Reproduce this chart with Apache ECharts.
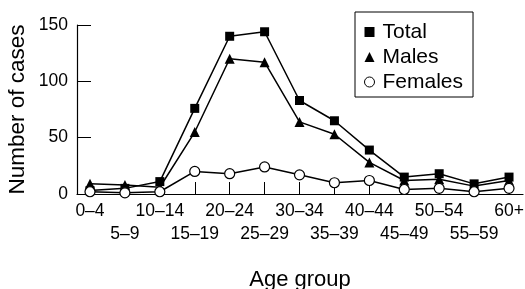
<!DOCTYPE html>
<html><head><meta charset="utf-8">
<script src="https://cdn.jsdelivr.net/npm/echarts@6/dist/echarts.min.js"></script>
<style>html,body{margin:0;padding:0;background:#fff}#c{width:525px;height:289px}</style>
</head><body><div id="c"></div>
<script>
var categories = ['0–4','5–9','10–14','15–19','20–24','25–29','30–34','35–39','40–44','45–49','50–54','55–59','60+'];
var total   = [3, 5, 11, 76, 140, 144, 83, 65, 39, 15, 18, 9, 15];
var males   = [9, 8, 6, 55, 120, 117, 64, 53, 28, 12, 13, 7, 12];
var females = [2, 1, 2, 20, 18, 24, 17, 10, 12, 4, 5, 2, 5];
var yTicks = [0, 50, 100, 150];

function pts(arr){ return arr.map(function(v,i){ return [i, v]; }); }
var idx = categories.map(function(c,i){ return i; });
var evenIdx = idx.filter(function(i){ return i % 2 === 0; });
var oddIdx = idx.filter(function(i){ return i % 2 === 1; });
var FONT = 'Liberation Sans, Arial, sans-serif';
var XMIN = -0.372, XMAX = 12.4;

function labelFmt(v){ return categories[Math.round(v)]; }

var chart = echarts.init(document.getElementById('c'), null, {renderer:'canvas'});
chart.setOption({
  animation: false,
  backgroundColor: '#fff',
  grid: {left: 77, right: 2, top: 25, bottom: 95, containLabel: false, outerBoundsMode: 'none'},
  xAxis: [{
    type: 'value', min: XMIN, max: XMAX, position: 'bottom',
    name: 'Age group', nameLocation: 'middle', nameGap: 75, nameMoveOverlap: false,
    nameTextStyle: {fontFamily: FONT, fontSize: 22, color: '#000'},
    axisLine: {show: true, onZero: false, lineStyle: {color: '#000', width: 1.2}},
    axisTick: {show: true, inside: true, length: 12, customValues: idx, lineStyle: {color: '#000', width: 1}},
    axisLabel: {show: true, customValues: evenIdx, showMaxLabel: true, showMinLabel: true, hideOverlap: false,
      fontFamily: FONT, fontSize: 17.5, color: '#000', margin: 8, formatter: labelFmt},
    splitLine: {show: false}
  }, {
    type: 'value', min: XMIN, max: XMAX, position: 'bottom',
    axisLine: {show: false, onZero: false},
    axisTick: {show: false},
    axisLabel: {show: true, customValues: oddIdx, showMaxLabel: true, showMinLabel: true, hideOverlap: false,
      fontFamily: FONT, fontSize: 17.5, color: '#000', margin: 31, formatter: labelFmt},
    splitLine: {show: false}
  }],
  yAxis: {
    type: 'value', min: yTicks[0], max: yTicks[yTicks.length-1], interval: 50,
    name: 'Number of cases', nameLocation: 'middle', nameGap: 48, nameRotate: 90, nameMoveOverlap: false,
    nameTextStyle: {fontFamily: FONT, fontSize: 22.5, color: '#000'},
    axisLine: {show: true, onZero: false, lineStyle: {color: '#000', width: 1.2}},
    axisTick: {show: true, inside: true, length: 14, lineStyle: {color: '#000', width: 1}},
    axisLabel: {fontFamily: FONT, fontSize: 17.5, color: '#000', margin: 9},
    splitLine: {show: false}
  },
  legend: {
    orient: 'vertical', left: 355, top: 12,
    padding: [8, 10, 3, 9], itemGap: 1,
    borderColor: '#000', borderWidth: 1,
    itemWidth: 10, itemHeight: 10,
    textStyle: {fontFamily: FONT, fontSize: 21, color: '#000', lineHeight: 24, padding: [0,0,0,3]},
    data: [
      {name: 'Total', icon: 'rect'},
      {name: 'Males', icon: 'triangle'},
      {name: 'Females', icon: 'circle', itemStyle: {color: '#fff', borderColor: '#000', borderWidth: 1}}
    ]
  },
  series: [
    {name: 'Total', type: 'line', data: pts(total), symbol: 'rect', symbolSize: 9,
     lineStyle: {color: '#000', width: 1.5}, itemStyle: {color: '#000'}, z: 3},
    {name: 'Males', type: 'line', data: pts(males), symbol: 'triangle', symbolSize: 10,
     lineStyle: {color: '#000', width: 1.5}, itemStyle: {color: '#000'}, z: 2},
    {name: 'Females', type: 'line', data: pts(females), symbol: 'circle', symbolSize: 10, showAllSymbol: true,
     lineStyle: {color: '#000', width: 1.5}, itemStyle: {color: '#fff', borderColor: '#000', borderWidth: 1.2}, z: 4}
  ]
});
</script></body></html>
